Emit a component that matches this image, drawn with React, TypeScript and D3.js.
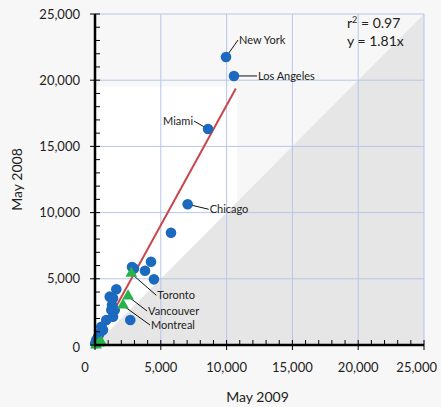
import React from 'react';
import * as d3 from 'd3';

// May 2009 (x) vs May 2008 (y)
const cityX = [9955, 10560, 8590, 7040, 5775, 4255, 3800, 4480, 2810, 2960, 1620, 1120, 1370, 1290, 1240, 1500, 1370, 860, 2680, 480, 610, 360, 230, 100, 20];
const cityY = [21750, 20320, 16310, 10630, 8480, 6290, 5610, 4960, 5890, 5780, 4210, 3650, 3530, 3020, 2640, 2640, 2140, 1890, 1890, 1380, 1130, 880, 600, 380, 130];
const canX = [2760, 2510, 2130, 480, 300, 80];
const canY = [5415, 3700, 3020, 200, 150, 0];
const ticks = [0, 5000, 10000, 15000, 20000, 25000];
const slope = 1.81;
const fitEnd = 10700;

const labels = [
  { name: 'New York', set: 'c', i: 0, dx: 12, dy: -17, anchor: 'start' },
  { name: 'Los Angeles', set: 'c', i: 1, dx: 23, dy: 0, anchor: 'start' },
  { name: 'Miami', set: 'c', i: 2, dx: -14, dy: -8, anchor: 'end' },
  { name: 'Chicago', set: 'c', i: 3, dx: 21, dy: 5, anchor: 'start' },
  { name: 'Toronto', set: 't', i: 0, dx: 23, dy: 20, anchor: 'start' },
  { name: 'Vancouver', set: 't', i: 1, dx: 17, dy: 13, anchor: 'start' },
  { name: 'Montreal', set: 't', i: 2, dx: 25, dy: 18, anchor: 'start' },
];

const W = 441, H = 407;
const margin = { left: 95, right: 17, top: 14, bottom: 62 };
const font = 'Lato, "Open Sans", sans-serif';

export default function App() {
  const x = d3.scaleLinear().domain([0, 25000]).range([margin.left, W - margin.right]);
  const y = d3.scaleLinear().domain([0, 25000]).range([H - margin.bottom, margin.top]);
  const minor = d3.range(0, 25001, 1000);
  const tri = `M${x(0)},${y(0)}L${x(25000)},${y(25000)}L${x(25000)},${y(0)}Z`;

  return (
    <svg width={W} height={H} style={{ position: 'absolute', left: 0, top: 0, background: '#f7f7f7' }}>
      <rect x={0} y={0} width={W} height={H} fill="#f7f7f7" />
      <rect x={x(0)} y={y(19500)} width={x(10800) - x(0)} height={y(0) - y(19500)} fill="#ffffff" />
      <path d={tri} fill="#e6e6e6" />
      {ticks.slice(1).map(t => (
        <g key={t}>
          <line x1={x(t)} x2={x(t)} y1={y(0)} y2={y(25000)} stroke="#b4c7ea" strokeWidth={1} />
          <line x1={x(0)} x2={x(25000)} y1={y(t)} y2={y(t)} stroke="#b4c7ea" strokeWidth={1} />
        </g>
      ))}
      <line x1={x(0)} y1={y(0)} x2={x(fitEnd)} y2={y(fitEnd * slope)} stroke="#c9474b" strokeWidth={2} />
      {labels.map(l => {
        const px = l.set === 'c' ? x(cityX[l.i]) : x(canX[l.i]) + 2;
        const py = l.set === 'c' ? y(cityY[l.i]) : y(canY[l.i]) + 2;
        return (
          <line key={l.name + 'l'} x1={px} y1={py} x2={px + l.dx} y2={py + l.dy} stroke="#111" strokeWidth={1} />
        );
      })}
      {cityX.map((v, i) => (
        <circle key={'c' + i} cx={x(v)} cy={y(cityY[i])} r={5.3} fill="#1b6ac0" />
      ))}
      {canX.map((v, i) => (
        <path key={'t' + i} d={d3.symbol(d3.symbolTriangle, 60)() || ''}
          transform={`translate(${x(v)},${y(canY[i])})`} fill="#27b34a" />
      ))}
      {labels.map(l => {
        const px = l.set === 'c' ? x(cityX[l.i]) : x(canX[l.i]) + 2;
        const py = l.set === 'c' ? y(cityY[l.i]) : y(canY[l.i]) + 2;
        return (
          <text key={l.name} x={px + l.dx + (l.anchor === 'end' ? -1 : 1)} y={py + l.dy} dy="0.35em"
            textAnchor={l.anchor} fontFamily={font} fontSize={11} fill="#222">{l.name}</text>
        );
      })}
      {/* axes */}
      <line x1={x(0)} x2={x(0)} y1={y(0) + 1} y2={y(25000)} stroke="#000" strokeWidth={2.5} />
      <line x1={x(0)} x2={x(25000)} y1={y(0)} y2={y(0)} stroke="#000" strokeWidth={2.5} />
      {minor.map(t => {
        const major = t % 5000 === 0;
        return (
          <g key={'m' + t}>
            <line x1={x(0) - (major ? 5 : 0)} x2={x(0) + 5} y1={y(t)} y2={y(t)} stroke="#000" strokeWidth={1} />
            <line x1={x(t)} x2={x(t)} y1={y(0) + (major ? 5 : 0)} y2={y(0) - 5} stroke="#000" strokeWidth={1} />
          </g>
        );
      })}
      {ticks.map(t => (
        <text key={'yl' + t} x={x(0) - 15} y={y(t) + (t === 0 ? 2 : 0)} dy="0.35em" textAnchor="end"
          fontFamily={font} fontSize={13} fill="#222">{d3.format(',')(t)}</text>
      ))}
      {ticks.map(t => (
        <text key={'xl' + t} x={t === 0 ? x(0) - 10 : t === 25000 ? W - 4 : x(t)} y={y(0) + 22} dy="0.35em"
          textAnchor={t === 25000 ? 'end' : 'middle'}
          fontFamily={font} fontSize={13} fill="#222">{d3.format(',')(t)}</text>
      ))}
      <text x={(x(0) + x(25000)) / 2 - 2} y={H - 5} textAnchor="middle" fontFamily={font} fontSize={14} fill="#222">May 2009</text>
      <text transform={`translate(22,${(y(0) + y(25000)) / 2}) rotate(-90)`} textAnchor="middle"
        fontFamily={font} fontSize={14} fill="#222">May 2008</text>
      <text x={347} y={28} fontFamily={font} fontSize={14} fill="#222">r<tspan dy={-5} fontSize={9}>2</tspan><tspan dy={5}> = 0.97</tspan></text>
      <text x={347} y={46} fontFamily={font} fontSize={14} fill="#222">y = 1.81x</text>
    </svg>
  );
}
